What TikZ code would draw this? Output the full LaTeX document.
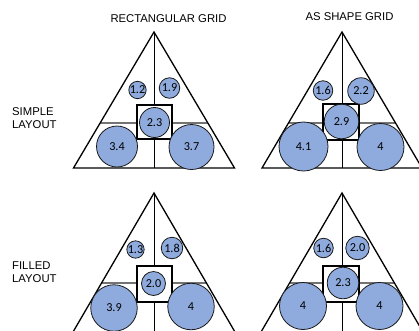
\documentclass[tikz,border=0pt]{standalone}
\usepackage{fontspec}
\setmainfont{Liberation Sans}
\newfontfamily\numfont{Carlito}
\usetikzlibrary{calc}
\definecolor{bubble}{HTML}{8FAADC}
\tikzset{
  tri/.style={draw=black, line width=1.3pt, line join=miter},
  vline/.style={draw=black, line width=0.9pt},
  hline/.style={draw=black!55, line width=1.2pt},
  sq/.style={draw=black, line width=1.6pt, fill=white},
  bub/.style={circle, draw=black!90, line width=0.8pt, fill=bubble, inner sep=0pt, font=\numfont\fontsize{12.2}{13}\selectfont},
  lab/.style={font=\fontsize{11.3}{13}\selectfont, align=left, inner sep=0pt},
}
\begin{document}
\begin{tikzpicture}[x=1pt, y=-1pt]
\useasboundingbox (0,0) rectangle (419,330);
\clip (0,0) rectangle (419,330);
% headers
\node[lab] (h1) at (168.5,19) {RECTANGULAR GRID};
\node[lab] (h2) at (349.5,17) {AS SHAPE GRID};
\node[lab, anchor=west] (r1) at (12,118.5) {SIMPLE\\LAYOUT};
\node[lab, anchor=west] (r2) at (12,272) {FILLED\\LAYOUT};

% ===== top left =====
\coordinate (a1) at (154,32);
\coordinate (l1) at (73.5,168);
\coordinate (b1) at (234.5,168);
\coordinate (m1) at (154,168);
\draw[vline] (a1) -- (m1);
\draw[hline] ($(a1)!0.669!(l1)$) -- ($(a1)!0.669!(b1)$);
\draw[tri] (a1) -- (l1) -- (b1) -- cycle;
\node[sq, minimum width=35pt, minimum height=34pt, inner sep=0pt] (s1) at (154.5,122) {};
\node[bub, minimum size=13.5pt] (c11) at (137.5,90) {1.2};
\node[bub, minimum size=20.5pt] (c12) at (169.5,88) {1.9};
\node[bub, minimum size=30pt] (c13) at (154.5,122.5) {2.3};
\node[bub, minimum size=41pt] (c14) at (117,146.5) {3.4};
\node[bub, minimum size=45pt] (c15) at (191.5,147) {3.7};

% ===== top right =====
\coordinate (a2) at (342,32);
\coordinate (l2) at (262,168);
\coordinate (b2) at (422,168);
\coordinate (m2) at (342,168);
\draw[vline] (a2) -- (m2);
\draw[hline] ($(a2)!0.669!(l2)$) -- ($(a2)!0.669!(b2)$);
\draw[tri] (a2) -- (l2) -- (b2) -- cycle;
\node[sq, minimum width=36pt, minimum height=36pt, inner sep=0pt] (s2) at (341,122) {};
\node[bub, minimum size=19.5pt] (c21) at (323,90.5) {1.6};
\node[bub, minimum size=26.5pt] (c22) at (361,91) {2.2};
\node[bub, minimum size=34.5pt] (c23) at (341.5,121.5) {2.9};
\node[bub, minimum size=49pt] (c24) at (303.5,146.5) {4.1};
\node[bub, minimum size=47pt] (c25) at (380.5,147) {4};

% ===== bottom left =====
\coordinate (a3) at (154,193);
\coordinate (l3) at (73,332);
\coordinate (b3) at (235,332);
\coordinate (m3) at (154,332);
\draw[vline] (a3) -- (m3);
\draw[hline] ($(a3)!0.647!(l3)$) -- ($(a3)!0.647!(b3)$);
\draw[tri] (a3) -- (l3) -- (b3) -- cycle;
\node[sq, minimum width=35pt, minimum height=36pt, inner sep=0pt] (s3) at (154.5,284) {};
\node[bub, minimum size=15.5pt] (c31) at (135.5,249.5) {1.3};
\node[bub, minimum size=21.5pt] (c32) at (172,248) {1.8};
\node[bub, minimum size=24pt] (c33) at (153.5,283.5) {2.0};
\node[bub, minimum size=46.5pt] (c34) at (114,308) {3.9};
\node[bub, minimum size=46.5pt] (c35) at (191,306.5) {4};

% ===== bottom right =====
\coordinate (a4) at (342,193);
\coordinate (l4) at (261,332);
\coordinate (b4) at (423,332);
\coordinate (m4) at (342,332);
\draw[vline] (a4) -- (m4);
\draw[hline] ($(a4)!0.647!(l4)$) -- ($(a4)!0.647!(b4)$);
\draw[tri] (a4) -- (l4) -- (b4) -- cycle;
\node[sq, minimum width=36pt, minimum height=36pt, inner sep=0pt] (s4) at (341,284) {};
\node[bub, minimum size=19.5pt] (c41) at (323.5,248) {1.6};
\node[bub, minimum size=23.5pt] (c42) at (357.5,248) {2.0};
\node[bub, minimum size=31.5pt] (c43) at (343,283) {2.3};
\node[bub, minimum size=47pt] (c44) at (303,306) {4};
\node[bub, minimum size=47pt] (c45) at (379.5,306) {4};
\end{tikzpicture}
\end{document}
